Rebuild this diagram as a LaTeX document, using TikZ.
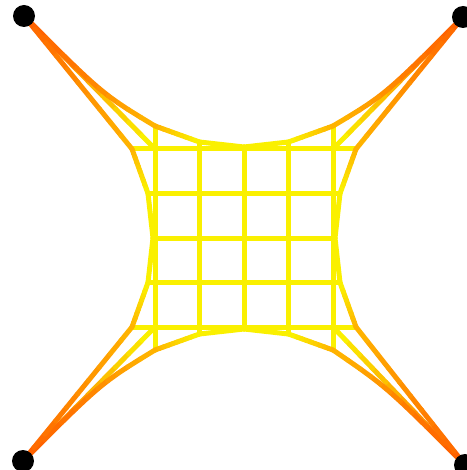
\documentclass[tikz,border=0pt]{standalone}
\usetikzlibrary{calc}
\definecolor{hot}{RGB}{255,98,0}
\definecolor{warm}{RGB}{255,178,0}
\definecolor{cool}{RGB}{250,240,0}

% edge shaded from one colour to another
\newcommand{\heatedge}[4]{%
  \foreach \t in {0,...,9}{
    \pgfmathtruncatemacro{\mixp}{100-\t*100/9}
    \draw[spring, color=#3!\mixp!#4] ($(#1)!\t/10!(#2)$) -- ($(#1)!\t/10+0.1!(#2)$);
  }}
% same, bent through a control point
\newcommand{\heatcurve}[5]{%
  \path (#1) .. controls (#2) .. (#3)
    \foreach \k [evaluate=\k as \kp using \k/10] in {0,...,10}{coordinate[pos=\kp] (q\k)};
  \foreach \t in {0,...,9}{
    \pgfmathtruncatemacro{\mixp}{100-\t*100/9}
    \pgfmathtruncatemacro{\u}{\t+1}
    \draw[spring, color=#4!\mixp!#5] (q\t) -- (q\u);
  }}

\begin{document}
\begin{tikzpicture}[
  x=1pt, y=-1pt,
  spring/.style={line width=5pt, line cap=round, line join=round, color=cool},
  pin/.style={fill=black}
]
  \useasboundingbox (0,0) rectangle (466,470);

  % mesh points
  \foreach \i/\d in {1/23,2/7,3/2,4/7,5/23}{
    \pgfmathsetmacro{\px}{155+44.5*(\i-1)}
    \pgfmathsetmacro{\py}{149+44.5*(\i-1)}
    \coordinate (n-\i-0) at ({\px},{149-\d});
    \coordinate (n-\i-6) at ({\px},{327+\d});
    \coordinate (n-0-\i) at ({155-\d},{\py});
    \coordinate (n-6-\i) at ({333+\d},{\py});
    \foreach \j in {1,...,5}{
      \pgfmathsetmacro{\qy}{149+44.5*(\j-1)}
      \coordinate (n-\i-\j) at ({\px},{\qy});
    }
  }
  \coordinate (n-0-0) at (24,16);
  \coordinate (n-6-0) at (463,17);
  \coordinate (n-0-6) at (23,461);
  \coordinate (n-6-6) at (465,465);

  % inner mesh
  \foreach \a in {0,...,5}{
    \foreach \b in {1,...,5}{
      \pgfmathtruncatemacro{\c}{\a+1}
      \draw[spring] (n-\a-\b) -- (n-\c-\b);
      \draw[spring] (n-\b-\a) -- (n-\b-\c);
    }
  }
  \foreach \a/\c in {2/3,3/4}{
    \draw[spring] (n-\a-0) -- (n-\c-0);
    \draw[spring] (n-\a-6) -- (n-\c-6);
    \draw[spring] (n-0-\a) -- (n-0-\c);
    \draw[spring] (n-6-\a) -- (n-6-\c);
  }

  % stretched rim near the pins
  \foreach \cx/\cy/\nx/\ny/\sx/\sy in {0/0/1/1/1/1, 6/0/5/1/-1/1, 0/6/1/5/1/-1, 6/6/5/5/-1/-1}{
    \pgfmathtruncatemacro{\mx}{2*\nx-\cx}
    \pgfmathtruncatemacro{\my}{2*\ny-\cy}
    \coordinate (bend) at ($(n-\cx-\cy)+(\sx*78,\sy*78)$);
    \heatedge{n-\nx-\cy}{n-\mx-\cy}{warm}{cool}
    \heatedge{n-\cx-\ny}{n-\cx-\my}{warm}{cool}
    \heatedge{n-\cx-\cy}{n-\nx-\ny}{hot}{cool}
    \heatcurve{n-\cx-\cy}{bend}{n-\nx-\cy}{hot}{warm}
    \heatedge{n-\cx-\cy}{n-\cx-\ny}{hot}{warm}
  }

  % pins
  \foreach \p in {n-0-0,n-6-0,n-0-6,n-6-6}
    \fill[pin] (\p) circle (11pt);
\end{tikzpicture}
\end{document}
